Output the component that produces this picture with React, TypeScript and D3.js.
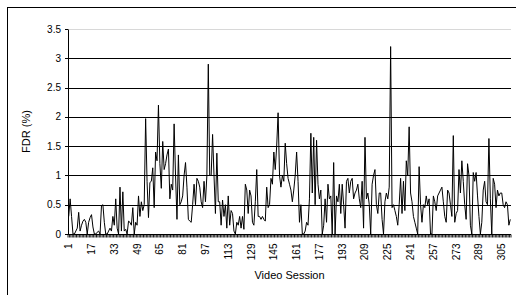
import React, { useEffect, useRef } from 'react';
import * as d3 from 'd3';

// FDR (%) per video session
const fdrValues: number[] = [
  0.3, 0.6, 0.3, 0.0, 0.0, 0.05, 0.1, 0.37, 0.05, 0.15,
  0.22, 0.25, 0.2, 0.0, 0.2, 0.28, 0.33, 0.12, 0.0, 0.0,
  0.03, 0.05, 0.0, 0.48, 0.5, 0.2, 0.0, 0.0, 0.05, 0.1,
  0.05, 0.3, 0.15, 0.6, 0.1, 0.0, 0.8, 0.05, 0.72, 0.05,
  0.08, 0.0, 0.22, 0.2, 0.15, 0.45, 0.0, 0.2, 0.15, 0.65,
  0.3, 0.55, 0.4, 0.5, 1.97, 0.9, 0.28, 0.88, 0.9, 1.13,
  0.45, 1.4, 1.25, 2.2, 1.2, 0.78, 1.58, 1.1, 1.2, 1.35,
  1.45, 0.6, 0.85, 0.75, 1.88, 1.0, 0.25, 1.35, 0.5, 0.55,
  0.65, 1.0, 1.22, 0.8, 0.25, 0.22, 0.2, 0.5, 0.85, 0.5,
  0.95, 0.9, 0.8, 0.55, 0.45, 0.9, 0.55, 1.0, 2.9, 1.0,
  1.0, 1.7, 1.0, 0.35, 1.38, 0.55, 0.55, 0.15, 0.58, 0.3,
  0.5, 0.1, 0.65, 0.15, 0.4, 0.35, 0.05, 0.0, 0.2, 0.15,
  0.3, 0.1, 0.3, 0.08, 0.85, 0.75, 0.35, 0.75, 0.65, 0.2,
  0.15, 0.55, 1.1, 0.3, 0.3, 0.25, 0.3, 0.25, 0.22, 0.8,
  0.45, 0.5, 0.95, 0.85, 1.4, 1.1, 1.5, 2.07, 1.0, 0.8,
  1.0, 0.9, 1.55, 1.2, 0.95, 0.85, 0.75, 0.55, 0.75, 1.0,
  1.4, 0.9, 0.2, 0.5, 0.0, 0.0, 0.05, 0.2, 0.15, 0.6,
  1.72, 0.7, 1.65, 0.5, 1.6, 0.85, 0.6, 0.75, 0.0, 0.15,
  0.6, 0.2, 0.85, 0.6, 0.65, 0.0, 1.22, 0.0, 0.65, 0.55,
  0.85, 0.35, 0.85, 0.5, 0.1, 0.9, 0.95, 0.7, 0.9, 0.95,
  0.6, 0.7, 0.75, 0.85, 0.6, 0.45, 0.9, 0.1, 1.65, 0.6,
  0.7, 0.5, 0.0, 0.85, 1.0, 1.1, 0.5, 0.35, 0.7, 0.7,
  0.25, 0.0, 0.55, 0.7, 0.6, 0.8, 3.2, 0.45, 0.5, 0.4,
  0.3, 0.15, 0.5, 0.95, 0.35, 0.9, 0.4, 1.25, 1.0, 1.83,
  0.7, 0.55, 0.3, 0.2, 0.1, 0.0, 1.15, 0.5, 0.2, 0.5,
  0.45, 0.65, 0.5, 0.6, 0.0, 0.0, 0.65, 0.55, 0.4, 0.65,
  0.7, 0.75, 0.8, 0.55, 0.3, 0.2, 0.75, 0.7, 0.5, 0.3,
  1.68, 0.2, 0.35, 0.4, 1.1, 0.7, 1.25, 0.9, 0.5, 0.25,
  1.2, 1.0, 0.15, 0.0, 1.05, 0.9, 1.05, 0.65, 0.3, 0.0,
  0.2, 0.75, 0.9, 0.55, 0.5, 1.63, 0.6, 0.0, 0.95, 0.85,
  0.45, 0.75, 0.65, 0.7, 0.7, 0.5, 0.45, 0.55, 0.5, 0.15,
  0.25,
];

const sessions: number[] = fdrValues.map((_, i) => i + 1);
const xTickLabels: number[] = [1, 17, 33, 49, 65, 81, 97, 113, 129, 145, 161, 177, 193, 209, 225, 241, 257, 273, 289, 305];
const yTicks: number[] = [0, 0.5, 1, 1.5, 2, 2.5, 3, 3.5];

const App: React.FC = () => {
  const svgRef = useRef<SVGSVGElement>(null);
  const width = 516;
  const height = 295;

  useEffect(() => {
    if (!svgRef.current) return;
    const svg = d3.select(svgRef.current);
    svg.selectAll('*').remove();

    const margin = { top: 29, right: 5, bottom: 60, left: 68 };
    const font = 'Liberation Sans, Arial, sans-serif';

    // Outer chart border (cropped at the right and bottom in the reference)
    svg.append('rect')
      .attr('x', 7.5)
      .attr('y', 7.5)
      .attr('width', 530)
      .attr('height', 310)
      .style('fill', '#fff')
      .style('stroke', '#000')
      .style('stroke-width', 1);

    const x = d3.scaleBand<number>()
      .domain(sessions)
      .range([margin.left, width - margin.right]);

    const y = d3.scaleLinear()
      .domain([0, 3.5])
      .range([height - margin.bottom - 1, margin.top]);

    const g = svg.append('g');

    // Gridlines
    g.selectAll('.grid')
      .data(yTicks.filter(t => t > 0))
      .enter()
      .append('line')
      .attr('x1', margin.left)
      .attr('x2', width - margin.right)
      .attr('y1', d => Math.round(y(d)) + 0.5)
      .attr('y2', d => Math.round(y(d)) + 0.5)
      .style('stroke', d => (d === 3.5 ? '#d8d8d8' : '#000'))
      .style('stroke-width', 1);

    // Y axis
    const y0 = Math.round(y(0)) + 0.5;
    g.append('line')
      .attr('x1', margin.left + 0.5)
      .attr('x2', margin.left + 0.5)
      .attr('y1', Math.round(y(3.5)) + 0.5)
      .attr('y2', y0)
      .style('stroke', '#000');

    g.selectAll('.ytick')
      .data(yTicks)
      .enter()
      .append('line')
      .attr('x1', margin.left - 3)
      .attr('x2', margin.left)
      .attr('y1', d => Math.round(y(d)) + 0.5)
      .attr('y2', d => Math.round(y(d)) + 0.5)
      .style('stroke', '#000');

    g.selectAll('.ylabel')
      .data(yTicks)
      .enter()
      .append('text')
      .attr('x', margin.left - 7)
      .attr('y', d => y(d))
      .attr('dy', '0.35em')
      .style('text-anchor', 'end')
      .style('font-family', font)
      .style('font-size', '10px')
      .style('fill', '#000')
      .text(d => d3.format('~g')(d));

    // X axis line and category ticks between sessions
    g.append('line')
      .attr('x1', margin.left)
      .attr('x2', width - margin.right)
      .attr('y1', y0)
      .attr('y2', y0)
      .style('stroke', '#000');

    const boundaries = sessions.map(s => x(s)!).concat([width - margin.right]);
    g.selectAll('.xtick')
      .data(boundaries)
      .enter()
      .append('line')
      .attr('x1', d => d)
      .attr('x2', d => d)
      .attr('y1', y0)
      .attr('y2', y0 + 3)
      .style('stroke', '#000')
      .style('stroke-width', 0.9);

    g.selectAll('.xlabel')
      .data(xTickLabels)
      .enter()
      .append('text')
      .attr('transform', d => `translate(${x(d)! + x.bandwidth() / 2},${y0 + 9}) rotate(-90)`)
      .attr('dy', '0.35em')
      .style('text-anchor', 'end')
      .style('font-family', font)
      .style('font-size', '10px')
      .style('fill', '#000')
      .text(d => d);

    // Data line
    const line = d3.line<number>()
      .x((_, i) => x(sessions[i])! + x.bandwidth() / 2)
      .y(d => y(d));

    g.append('path')
      .datum(fdrValues)
      .attr('d', line)
      .style('fill', 'none')
      .style('stroke', '#000')
      .style('stroke-width', 1)
      .style('stroke-linejoin', 'miter');

    // Axis titles
    svg.append('text')
      .attr('transform', `translate(30,${(y(0) + y(3.5)) / 2}) rotate(-90)`)
      .style('text-anchor', 'middle')
      .style('font-family', font)
      .style('font-size', '11px')
      .style('fill', '#000')
      .text('FDR (%)');

    svg.append('text')
      .attr('x', (margin.left + width - margin.right) / 2)
      .attr('y', 279)
      .style('text-anchor', 'middle')
      .style('font-family', font)
      .style('font-size', '11px')
      .style('fill', '#000')
      .text('Video Session');
  }, []);

  return (
    <svg
      ref={svgRef}
      width={width}
      height={height}
      style={{ position: 'fixed', left: 0, top: 0, background: '#fff' }}
    />
  );
};

export default App;
